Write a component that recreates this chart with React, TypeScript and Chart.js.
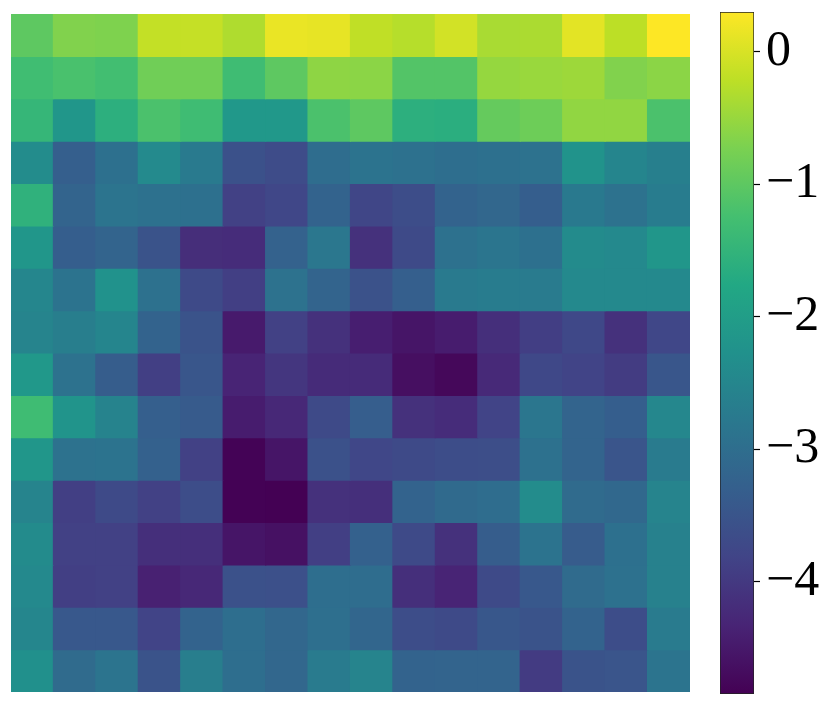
import React, { useEffect, useRef } from "react";
import { Chart, registerables } from "chart.js";

Chart.register(...registerables);

// ---- data ----
const columnLabels = Array.from({ length: 16 }, (_, i) => String(i));
const rowLabels = Array.from({ length: 16 }, (_, i) => String(i));

const heatValues: number[][] = [
  [-1.0, -0.68, -0.7, -0.17, -0.15, -0.32, 0.15, 0.12, -0.19, -0.27, -0.05, -0.37, -0.35, 0.09, -0.22, 0.3],
  [-1.3, -1.2, -1.27, -0.83, -0.83, -1.32, -1.0, -0.58, -0.6, -1.1, -1.1, -0.52, -0.49, -0.46, -0.68, -0.6],
  [-1.45, -2.17, -1.6, -1.18, -1.32, -2.12, -2.12, -1.18, -1.0, -1.6, -1.62, -0.93, -0.85, -0.55, -0.55, -1.18],
  [-2.38, -3.31, -2.95, -2.42, -2.74, -3.57, -3.67, -3.02, -2.9, -2.93, -3.0, -2.95, -2.92, -2.22, -2.53, -2.64],
  [-1.55, -3.2, -2.87, -2.94, -2.95, -3.87, -3.77, -3.23, -3.78, -3.65, -3.23, -3.15, -3.32, -2.76, -2.92, -2.7],
  [-2.17, -3.32, -3.2, -3.54, -4.18, -4.2, -3.25, -2.82, -4.13, -3.7, -2.93, -2.85, -2.95, -2.4, -2.45, -2.17],
  [-2.5, -2.9, -2.26, -2.93, -3.7, -3.9, -2.92, -3.2, -3.55, -3.31, -2.75, -2.7, -2.72, -2.45, -2.45, -2.45],
  [-2.55, -2.66, -2.53, -3.22, -3.53, -4.48, -3.87, -4.13, -4.42, -4.55, -4.45, -4.15, -3.92, -3.75, -4.13, -3.77],
  [-2.12, -2.92, -3.35, -3.9, -3.47, -4.33, -4.05, -4.22, -4.22, -4.65, -4.75, -4.25, -3.75, -3.82, -3.95, -3.47],
  [-1.32, -2.2, -2.57, -3.31, -3.38, -4.45, -4.27, -3.7, -3.33, -4.13, -4.2, -3.82, -2.84, -3.2, -3.32, -2.48],
  [-2.17, -2.92, -2.9, -3.27, -3.87, -4.82, -4.55, -3.57, -3.77, -3.7, -3.65, -3.63, -2.93, -3.2, -3.5, -2.72],
  [-2.55, -3.9, -3.7, -3.87, -3.65, -4.84, -4.85, -4.13, -4.15, -3.22, -3.08, -3.02, -2.38, -3.05, -3.12, -2.55],
  [-2.4, -3.87, -3.87, -4.15, -4.15, -4.55, -4.62, -3.9, -3.27, -3.7, -4.13, -3.35, -2.9, -3.37, -2.95, -2.6],
  [-2.45, -3.9, -3.87, -4.38, -4.27, -3.57, -3.6, -3.0, -3.02, -4.15, -4.33, -3.7, -3.43, -3.05, -2.93, -2.6],
  [-2.5, -3.43, -3.43, -3.82, -3.23, -3.0, -3.15, -2.97, -3.17, -3.65, -3.7, -3.45, -3.53, -3.22, -3.65, -2.72],
  [-2.3, -3.05, -2.87, -3.53, -2.66, -3.0, -3.15, -2.72, -2.55, -3.22, -3.2, -3.2, -3.97, -3.53, -3.5, -2.87],
];

const colorbarTicks = [0, -1, -2, -3, -4];

// ---- colour map ----
const VIRIDIS = [
  "#440154", "#482475", "#414487", "#355f8d", "#2a788e", "#21918c",
  "#22a884", "#44bf70", "#7ad151", "#bddf26", "#fde725",
];

function hexToRgb(h: string): number[] {
  return [1, 3, 5].map((i) => parseInt(h.slice(i, i + 2), 16));
}
const VIRIDIS_RGB = VIRIDIS.map(hexToRgb);

function viridis(t: number): string {
  const tt = Math.max(0, Math.min(1, t));
  const pos = tt * (VIRIDIS_RGB.length - 1);
  const i = Math.min(Math.floor(pos), VIRIDIS_RGB.length - 2);
  const f = pos - i;
  const a = VIRIDIS_RGB[i];
  const b = VIRIDIS_RGB[i + 1];
  const c = a.map((v, k) => Math.round(v + (b[k] - v) * f));
  return `rgb(${c[0]},${c[1]},${c[2]})`;
}

const allValues = heatValues.flat();
const vmin = Math.min(...allValues);
const vmax = Math.max(...allValues);
const colorFor = (v: number) => viridis((v - vmin) / (vmax - vmin));

export default function App() {
  const heatRef = useRef<HTMLCanvasElement>(null);
  const barRef = useRef<HTMLCanvasElement>(null);

  useEffect(() => {
    const heat = new Chart(heatRef.current!, {
      type: "bar",
      data: {
        labels: columnLabels,
        datasets: heatValues.map((row, r) => ({
          label: rowLabels[r],
          data: row.map(() => [r, r + 1]),
          backgroundColor: row.map(colorFor),
          borderWidth: 0,
          barPercentage: 1,
          categoryPercentage: 1,
          grouped: false,
          inflateAmount: 0.6,
        })) as any,
      },
      options: {
        animation: false,
        responsive: false,
        layout: { padding: { left: 11, right: 10, top: 14, bottom: 14 } },
        plugins: { legend: { display: false }, tooltip: { enabled: false } },
        scales: {
          x: { display: false, offset: true },
          y: { display: false, min: 0, max: 16, reverse: true },
        },
      },
    });

    const cb = new Chart(barRef.current!, {
      type: "bar",
      data: {
        labels: ["colorbar"],
        datasets: [
          {
            data: [[vmin, vmax]] as any,
            backgroundColor: (ctx: any) => {
              const chart = ctx.chart;
              const ys = chart.scales?.y;
              if (!ys || !chart.chartArea) return VIRIDIS[5];
              const g = chart.ctx.createLinearGradient(0, ys.getPixelForValue(vmin), 0, ys.getPixelForValue(vmax));
              VIRIDIS.forEach((c, i) => g.addColorStop(i / (VIRIDIS.length - 1), c));
              return g;
            },
            borderColor: "#222",
            borderWidth: 1,
            borderSkipped: false,
            barPercentage: 1,
            categoryPercentage: 1,
          },
        ],
      },
      options: {
        animation: false,
        responsive: false,
        layout: { padding: { left: 20, right: 0, top: 12, bottom: 12 } },
        plugins: { legend: { display: false }, tooltip: { enabled: false } },
        scales: {
          x: { display: false },
          y: {
            position: "right",
            min: vmin,
            max: vmax,
            afterBuildTicks: (scale: any) => {
              scale.ticks = colorbarTicks.map((v) => ({ value: v }));
            },
            afterFit: (scale: any) => {
              scale.width = 77;
              scale.paddingTop = 0;
              scale.paddingBottom = 0;
            },
            ticks: {
              autoSkip: false,
              padding: 6,
              color: "#000",
              font: { family: "'Liberation Serif', 'DejaVu Serif', serif", size: 50 },
              callback: (v: any) => (Number(v) < 0 ? "\u2212" + Math.abs(Number(v)) : String(v)),
            },
            grid: {
              drawOnChartArea: false,
              drawTicks: true,
              tickLength: 6,
              tickColor: "#000",
              tickWidth: 1.2,
            },
            border: { display: false },
          },
        },
      },
    });

    return () => {
      heat.destroy();
      cb.destroy();
    };
  }, []);

  return (
    <div style={{ position: "absolute", left: 0, top: 0, width: 831, height: 706, background: "#fff" }}>
      <canvas ref={heatRef} width={700} height={706} style={{ position: "absolute", left: 0, top: 0 }} />
      <canvas ref={barRef} width={131} height={706} style={{ position: "absolute", left: 700, top: 0 }} />
    </div>
  );
}
